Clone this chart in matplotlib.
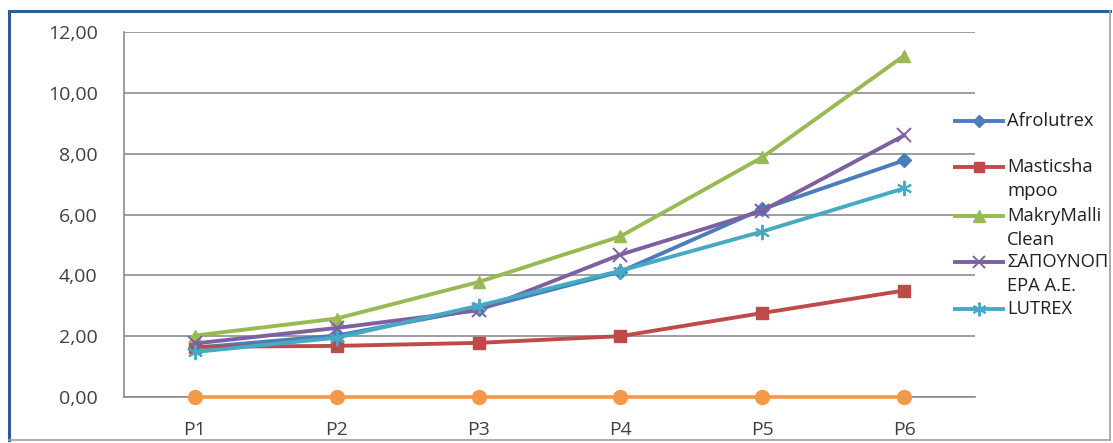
import matplotlib.pyplot as plt
from matplotlib.lines import Line2D
from matplotlib.ticker import FuncFormatter, MultipleLocator
from matplotlib.transforms import Bbox, TransformedBbox

plt.rcParams['font.family'] = ['Open Sans', 'DejaVu Sans']

# periods and index values per product
periods = ['P1', 'P2', 'P3', 'P4', 'P5', 'P6']
afrolutrex = [1.62, 2.02, 2.90, 4.12, 6.18, 7.78]
masticshampoo = [1.65, 1.68, 1.78, 2.00, 2.76, 3.50]
makrymalli = [2.02, 2.58, 3.78, 5.28, 7.88, 11.22]
sapounopoiia = [1.76, 2.27, 2.85, 4.68, 6.12, 8.60]
lutrex = [1.48, 1.95, 3.00, 4.15, 5.44, 6.86]
baseline = [0, 0, 0, 0, 0, 0]

# legend text, one list of rows per series (as wrapped in the legend box)
legend_rows = [
    ['Afrolutrex'],
    ['Masticsha', 'mpoo'],
    ['MakryMalli', 'Clean'],
    ['ΣΑΠΟΥΝΟΠ', 'ΕΡΑ Α.Ε.'],
    ['LUTREX'],
]

W, H = 1113, 443
fig = plt.figure(figsize=(W / 100, H / 100), dpi=100)
ax = fig.add_axes([124 / W, 1 - 397 / H, (975 - 124) / W, (397 - 32) / H])

# Excel-like asterisk: six spokes
asterisk = (6, 2, 0)
styles = [
    (afrolutrex, '#4a7ebb', 'D', 7, 1),
    (masticshampoo, '#be4b48', 's', 8, 1),
    (makrymalli, '#98b954', '^', 9, 1),
    (sapounopoiia, '#7d60a0', 'x', 10, 1.4),
    (lutrex, '#46aac5', asterisk, 11, 1.4),
]
x = range(len(periods))
ax.plot(x, baseline, color='#f29a4a', marker='o', markersize=10, lw=2.6,
        clip_on=False, zorder=3)
handles = []
for vals, col, mk, ms, mew in styles:
    ax.plot(x, vals, color=col, marker=mk, markersize=ms, lw=2.8,
            markeredgewidth=mew, markeredgecolor=col, zorder=4)
    handles.append((col, mk, ms, mew))

ax.set_xlim(-0.5, 5.5)
ax.set_ylim(0, 12)
ax.yaxis.set_major_locator(MultipleLocator(2))
ax.yaxis.set_major_formatter(FuncFormatter(lambda v, p: f'{v:.2f}'.replace('.', ',')))
ax.set_xticks(list(x))
ax.set_xticklabels(periods)
ax.grid(axis='y', color='#8c8c8c', lw=1.2)
ax.set_axisbelow(True)
for side in ['top', 'right']:
    ax.spines[side].set_visible(False)
for side in ['left', 'bottom']:
    ax.spines[side].set_color('#8c8c8c')
    ax.spines[side].set_linewidth(1.2)
ax.tick_params(length=0, labelsize=14, labelcolor='#404040')
ax.tick_params(axis='y', pad=19)
ax.tick_params(axis='x', pad=17)


def px(xp, yp):
    return xp / W, 1 - yp / H


# legend text is cut off at the chart's right edge
legend_clip = TransformedBbox(Bbox.from_extents(0, 0, 1108 / W, 1), fig.transFigure)

# legend drawn row by row
entry_y = [121, 167, 216, 262, 309]
for rows, y0, (col, mk, ms, mew) in zip(legend_rows, entry_y, handles):
    (x0, yy), (x1, _) = px(955, y0), px(1003, y0)
    fig.add_artist(Line2D([x0, x1], [yy, yy], color=col, lw=2.8,
                          transform=fig.transFigure))
    fig.add_artist(Line2D([(x0 + x1) / 2], [yy], color=col, marker=mk,
                          markersize=ms * 0.9, markeredgewidth=mew,
                          transform=fig.transFigure))
    for i, row in enumerate(rows):
        tx, ty = px(1007, y0 + i * 24)
        t = fig.text(tx, ty, row, ha='left', va='center', fontsize=13.2,
                     color='#202020')
        t.set_clip_box(legend_clip)
        t.set_clip_on(True)

# chart frame
blue, grey = '#2f5b96', '#a0a0a0'
for (xa, ya), (xb, yb), c, w in [
    ((9, 11), (1110, 11), blue, 2.2),
    ((9, 11), (9, 440), blue, 2.2),
    ((1110, 11), (1110, 440), grey, 1.2),
    ((9, 440), (1110, 440), grey, 1.2),
]:
    p0, p1 = px(xa, ya), px(xb, yb)
    fig.add_artist(Line2D([p0[0], p1[0]], [p0[1], p1[1]], color=c, lw=w,
                          transform=fig.transFigure))

fig.savefig('out.png', dpi=100)
